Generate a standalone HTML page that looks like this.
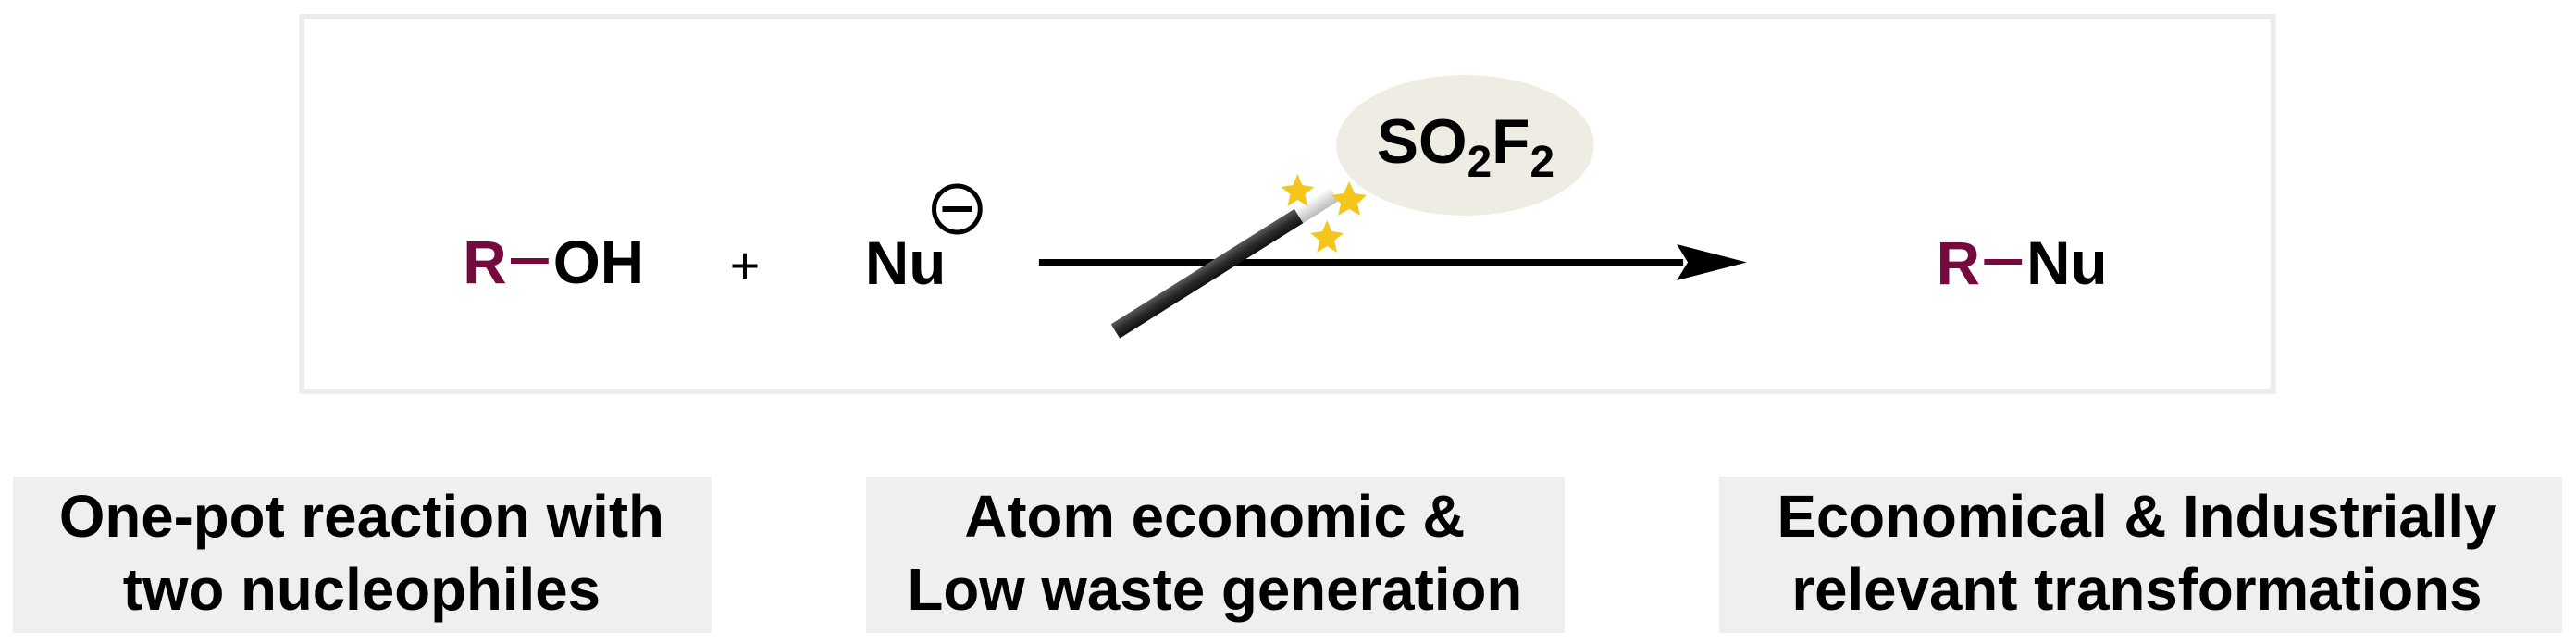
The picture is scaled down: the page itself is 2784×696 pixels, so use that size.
<!DOCTYPE html>
<html><head><meta charset="utf-8"><style>
html,body{margin:0;padding:0;background:#fff;}
svg{display:block;}
text{font-family:"Liberation Sans",Arial,sans-serif;font-weight:bold;}
</style></head><body>
<svg width="2784" height="696" viewBox="0 0 2784 696" xmlns="http://www.w3.org/2000/svg">
<defs>
<linearGradient id="wand" x1="0" y1="0" x2="0" y2="1">
<stop offset="0" stop-color="#5a5a5a"/><stop offset="0.5" stop-color="#2a2a2a"/><stop offset="1" stop-color="#111"/>
</linearGradient>
<linearGradient id="tip" x1="0" y1="0" x2="0" y2="1">
<stop offset="0" stop-color="#fff"/><stop offset="1" stop-color="#bbb"/>
</linearGradient>
</defs>
<g transform="scale(0.9946,1)">
<rect x="328" y="18" width="2142" height="405" fill="#fff" stroke="#ececec" stroke-width="6"/>
<text x="503" y="306" font-size="66" fill="#760a3e">R</text>
<rect x="555" y="279" width="41" height="6" fill="#760a3e"/>
<text x="601" y="306" font-size="66" fill="#000">OH</text>
<text x="793" y="306" font-size="56" font-weight="normal" fill="#000" style="font-weight:normal">+</text>
<text x="940" y="307" font-size="66" fill="#000">Nu</text>
<ellipse cx="1040" cy="226" rx="25" ry="25" fill="none" stroke="#000" stroke-width="5"/>
<rect x="1024" y="223" width="32" height="6" fill="#000"/>
<ellipse cx="1592" cy="157" rx="140" ry="76" fill="#efede3"/>
<text x="1496" y="176" font-size="68" fill="#000">SO<tspan font-size="48" dy="15">2</tspan><tspan dy="-15">F</tspan><tspan font-size="48" dy="15">2</tspan></text>
<rect x="1129" y="280" width="700" height="7" fill="#000"/>
<polygon points="1822,264 1898,283.5 1822,303 1834,283.5" fill="#000"/>
<g transform="translate(1212,358) rotate(-32)">
<rect x="0" y="-9" width="235" height="18" fill="url(#wand)"/>
<rect x="235" y="-9" width="45" height="18" fill="url(#tip)"/>
</g>
<g fill="#f4c51a">
<polygon points="1410,188 1415,200 1428,202 1418,210 1421,223 1410,216 1399,223 1402,210 1392,202 1405,200"/>
<polygon points="1466,196 1472,209 1485,211 1475,220 1478,233 1466,226 1454,233 1457,220 1447,211 1460,209"/>
<polygon points="1442,238 1447,250 1460,252 1450,260 1453,273 1442,266 1431,273 1434,260 1424,252 1437,250"/>
</g>
<text x="2104" y="307" font-size="66" fill="#760a3e">R</text>
<rect x="2156" y="280" width="41" height="6" fill="#760a3e"/>
<text x="2202" y="307" font-size="66" fill="#000">Nu</text>
<rect x="14" y="515" width="759" height="169" fill="#efefef"/>
<rect x="941" y="515" width="759" height="169" fill="#efefef"/>
<rect x="1868" y="515" width="916" height="169" fill="#efefef"/>
<g font-size="64" fill="#000" text-anchor="middle">
<text x="393" y="580">One-pot reaction with</text>
<text x="393" y="659">two nucleophiles</text>
<text x="1320" y="580">Atom economic &amp;</text>
<text x="1320" y="659">Low waste generation</text>
<text x="2322" y="580">Economical &amp; Industrially</text>
<text x="2322" y="659">relevant transformations</text>
</g>
</g>
</svg>
</body></html>
